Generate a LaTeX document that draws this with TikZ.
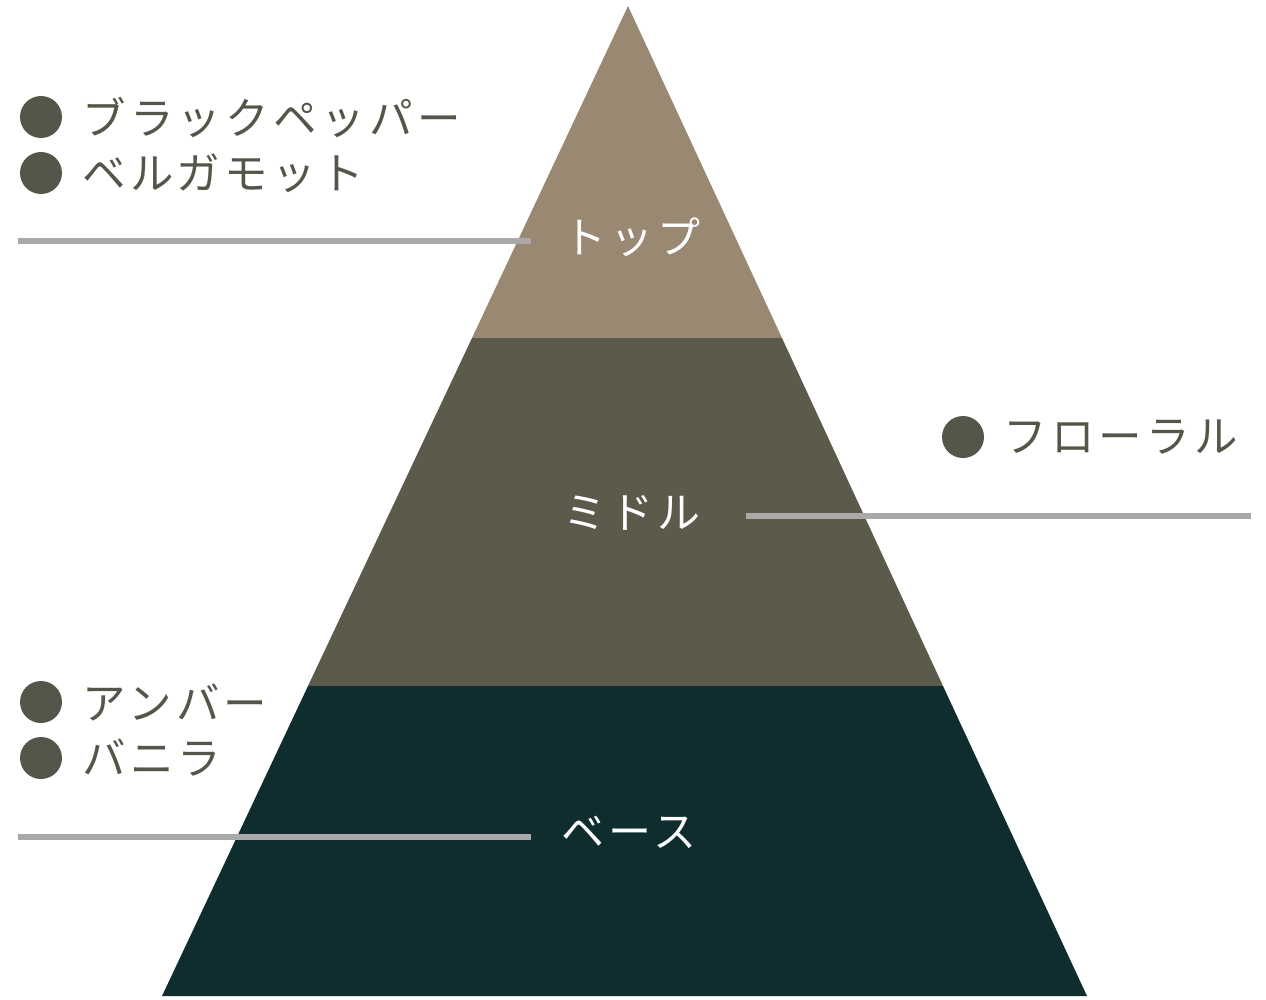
\documentclass[tikz,border=0pt]{standalone}
\usepackage{fontspec}
\setmainfont{Noto Sans CJK JP}[LetterSpace=10]
\definecolor{topcol}{HTML}{998872}
\definecolor{midcol}{HTML}{5C5A4B}
\definecolor{basecol}{HTML}{0F2C2F}
\definecolor{dotcol}{HTML}{55564A}
\definecolor{linecol}{HTML}{AAA8A8}
\tikzset{
  note/.style={anchor=west, inner sep=0pt, text=dotcol, font=\fontsize{43.5}{43.5}\selectfont},
  layer/.style={inner sep=0pt, text=white, font=\fontsize{43}{43}\selectfont},
  dot/.style={circle, fill=dotcol, minimum size=42, inner sep=0pt},
  guide/.style={linecol, line width=6}
}
\begin{document}
\begin{tikzpicture}[x=1pt, y=-1pt]
    \useasboundingbox (0,0) rectangle (1266,999);

    % Pyramid layers
    \fill[topcol] (628,6) -- (782,338) -- (472,338) -- cycle;
    \fill[midcol] (472,338) -- (782,338) -- (943,686) -- (308,686) -- cycle;
    \fill[basecol] (308,686) -- (943,686) -- (1087,996) -- (162,996) -- cycle;

    % Guide lines
    \coordinate (ltop) at (18,241);
    \coordinate (rtop) at (531,241);
    \coordinate (lmid) at (746,516);
    \coordinate (rmid) at (1251,516);
    \coordinate (lbase) at (18,837);
    \coordinate (rbase) at (531,837);
    \draw[guide] (ltop) -- (rtop);
    \draw[guide] (lmid) -- (rmid);
    \draw[guide] (lbase) -- (rbase);

    % Layer names
    \node[layer] (top) at (632,237) {トップ};
    \node[layer] (middle) at (632,513) {ミドル};
    \node[layer] (base) at (629,832) {ベース};

    % Top notes
    \node[dot] (dot1) at (41,117) {};
    \node[note] (pepper) at (82,117) {ブラックペッパー};
    \node[dot] (dot2) at (41,173) {};
    \node[note] (bergamot) at (82,173) {ベルガモット};

    % Middle notes
    \node[dot] (dot3) at (963,437) {};
    \node[note] (floral) at (1003,437) {フローラル};

    % Base notes
    \node[dot] (dot4) at (41,702) {};
    \node[note] (amber) at (82,702) {アンバー};
    \node[dot] (dot5) at (41,758) {};
    \node[note] (vanilla) at (82,758) {バニラ};

\end{tikzpicture}
\end{document}
